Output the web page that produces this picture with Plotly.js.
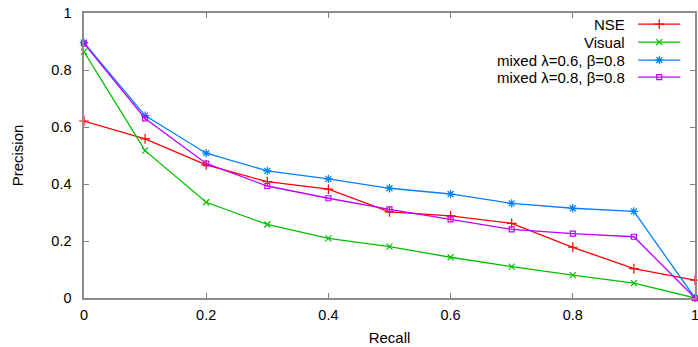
<!DOCTYPE html>
<html>
<head>
<meta charset="utf-8">
<script src="https://cdn.plot.ly/plotly-3.0.1.min.js"></script>
<style>html,body{margin:0;padding:0;background:#fff;}#chart{width:698px;height:347px;}</style>
</head>
<body>
<div id="chart"></div>
<script>
const recall = [0, 0.1, 0.2, 0.3, 0.4, 0.5, 0.6, 0.7, 0.8, 0.9, 1.0];
const nse = [0.621, 0.558, 0.467, 0.408, 0.382, 0.302, 0.288, 0.262, 0.178, 0.103, 0.063];
const visual = [0.864, 0.517, 0.336, 0.258, 0.209, 0.180, 0.143, 0.110, 0.080, 0.052, 0.0];
const mixed06 = [0.896, 0.640, 0.508, 0.446, 0.418, 0.385, 0.365, 0.332, 0.315, 0.304, 0.0];
const mixed08 = [0.893, 0.630, 0.472, 0.393, 0.350, 0.311, 0.276, 0.241, 0.226, 0.215, 0.0];
const seriesNames = ["NSE", "Visual", "mixed λ=0.6, β=0.8", "mixed λ=0.8, β=0.8"];
const tickVals = [0, 0.2, 0.4, 0.6, 0.8, 1];
const tickText = ["0", "0.2", "0.4", "0.6", "0.8", "1"];

const seriesData = [nse, visual, mixed06, mixed08];
const colors = ["#ff0000", "#00c000", "#0080ff", "#c000ff"];
const symbols = ["cross-thin-open", "x-thin-open", "asterisk-open", "square-open"];
const sizes = [7, 6, 7, 5];

const traces = [];
seriesData.forEach((ys, i) => {
  traces.push({
    x: recall, y: ys, type: "scatter", mode: "lines+markers",
    name: seriesNames[i], showlegend: false,
    line: {color: colors[i], width: 1.3},
    marker: {symbol: symbols[i], size: sizes[i], color: colors[i], line: {color: colors[i], width: 1.2}},
    cliponaxis: false
  });
});

// custom legend (text on the left, sample on the right) on an overlay axis pair in [0,1]
const legX0 = 0.907, legX1 = 0.976, legMid = 0.9415;
const legY = [0.961, 0.898, 0.835, 0.775];
const annotations = [];
seriesNames.forEach((nm, i) => {
  traces.push({
    x: [legX0, legX1], y: [legY[i], legY[i]], xaxis: "x2", yaxis: "y2",
    type: "scatter", mode: "lines", showlegend: false, hoverinfo: "skip",
    line: {color: colors[i], width: 1.3}
  });
  traces.push({
    x: [legMid], y: [legY[i]], xaxis: "x2", yaxis: "y2",
    type: "scatter", mode: "markers", showlegend: false, hoverinfo: "skip",
    marker: {symbol: symbols[i], size: sizes[i], color: colors[i], line: {color: colors[i], width: 1.2}}
  });
  annotations.push({
    xref: "x2", yref: "y2", x: 0.889, y: legY[i], text: nm, showarrow: false,
    xanchor: "right", yanchor: "middle", font: {size: 15, color: "#000"}
  });
});

const axisCommon = {
  range: [0, 1], tickvals: tickVals, ticktext: tickText,
  ticks: "inside", ticklen: 5, tickcolor: "#808080", tickwidth: 1,
  showline: true, linecolor: "#8c8c8c", linewidth: 1.6, mirror: "ticks",
  showgrid: false, zeroline: false, fixedrange: true,
  tickfont: {size: 14.5, color: "#000"}, ticklabeloverflow: "allow"
};

const layout = {
  width: 698, height: 347,
  margin: {l: 84, r: 3, t: 13, b: 49},
  paper_bgcolor: "#fff", plot_bgcolor: "#fff",
  font: {family: "Liberation Sans, Arial, sans-serif", size: 15, color: "#000"},
  showlegend: false,
  xaxis: Object.assign({}, axisCommon, {
    title: {text: "Recall", font: {size: 15}, standoff: 10},
    ticklabelstandoff: 3
  }),
  yaxis: Object.assign({}, axisCommon, {
    title: {text: "Precision", font: {size: 15}, standoff: 24},
    ticklabelstandoff: 8
  }),
  xaxis2: {range: [0, 1], overlaying: "x", visible: false, fixedrange: true},
  yaxis2: {range: [0, 1], overlaying: "y", visible: false, fixedrange: true},
  annotations: annotations
};

Plotly.newPlot("chart", traces, layout, {displayModeBar: false, staticPlot: true});
</script>
</body>
</html>
